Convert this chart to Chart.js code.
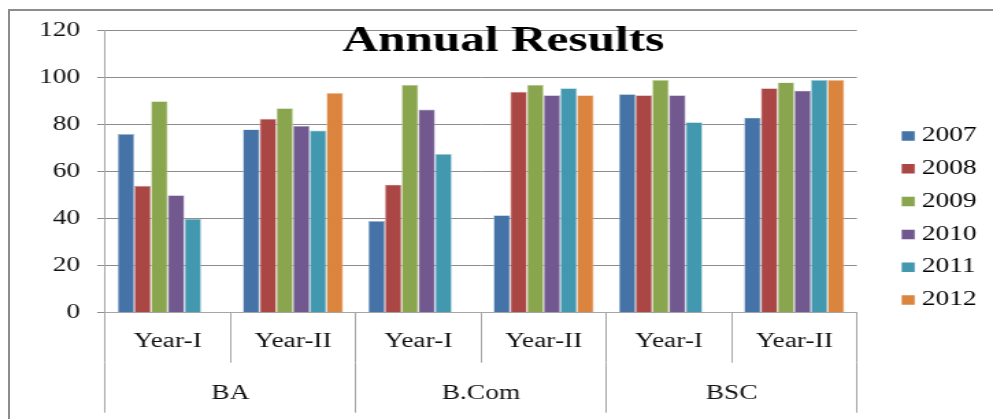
<!DOCTYPE html>
<html>
<head>
<meta charset="utf-8">
<script src="https://cdn.jsdelivr.net/npm/chart.js@4.4.1/dist/chart.umd.min.js"></script>
<style>
  html, body { margin: 0; padding: 0; background: #fff; }
  body { width: 993px; height: 419px; position: relative; overflow: hidden; }
  #frame {
    position: absolute; left: 8px; top: 9px; right: 0; bottom: 0;
    border-left: 2px solid #8c8c8c; border-top: 2px solid #8c8c8c;
  }
  #chart {
    position: absolute; left: 0; top: 0;
    transform: scaleX(1.3697); transform-origin: 0 0;
  }
</style>
</head>
<body>
<div id="frame"></div>
<canvas id="chart" width="725" height="419"></canvas>
<script>
// categories
const yearLabels = ['Year-I', 'Year-II', 'Year-I', 'Year-II', 'Year-I', 'Year-II'];
const courseLabels = ['BA', 'B.Com', 'BSC'];
const yTicks = [0, 20, 40, 60, 80, 100, 120];

// series
const series2007 = [76, 78, 39, 41.5, 93, 83];
const series2008 = [54, 82.5, 54.5, 94, 92.5, 95.5];
const series2009 = [90, 87, 97, 97, 99, 98];
const series2010 = [50, 79.5, 86.5, 92.5, 92.5, 94.5];
const series2011 = [40, 77.5, 67.5, 95.5, 81, 99];
const series2012 = [null, 93.5, null, 92.5, null, 99];

const seriesNames = ['2007', '2008', '2009', '2010', '2011', '2012'];
const seriesColors = ['#4572A7', '#AA4643', '#89A54E', '#71588F', '#4198AF', '#DB843D'];
const edgeColors = ['#A2B8D3', '#D4A2A1', '#C4D2A6', '#B8ABC7', '#A0CBD7', '#EDC19E'];
const allSeries = [series2007, series2008, series2009, series2010, series2011, series2012];

const serif = 'Liberation Serif';

// Excel puts the legend a bit away from the plot and the title over the plot,
// so nudge both boxes after chart.js has done its layout
const nudgeBoxes = {
  id: 'nudgeBoxes',
  afterLayout(chart) {
    const lg = chart.legend;
    lg.left += 24.6; lg.right += 24.6;
    lg.top -= 4.5; lg.bottom -= 4.5;
    const tt = chart.titleBlock;
    tt.left += 10.3; tt.right += 10.3;
  }
};

// keep an empty second line under every x label so the band gets its height
function twoLines(value) {
  return [this.getLabelForValue(value), ''];
}

new Chart(document.getElementById('chart'), {
  type: 'bar',
  data: {
    labels: yearLabels,
    datasets: allSeries.map((data, i) => ({
      label: seriesNames[i],
      data: data,
      backgroundColor: seriesColors[i],
      borderColor: edgeColors[i],
      borderWidth: 0.7,
      barPercentage: 1.0,
      categoryPercentage: 0.8,
      xAxisID: 'x'
    }))
  },
  options: {
    responsive: false,
    animation: false,
    layout: { padding: { left: 15.9, right: 26.5, top: 30.7, bottom: 4.7 } },
    plugins: {
      tooltip: { enabled: false },
      title: {
        display: true,
        text: 'Annual Results',
        color: '#000',
        font: { family: serif, size: 36, weight: 'bold', lineHeight: 1.2 },
        padding: { top: -10.5, bottom: -32.7 }
      },
      legend: {
        position: 'right',
        labels: {
          usePointStyle: true,
          pointStyle: 'rect',
          boxWidth: 0.1,
          boxHeight: 9.5,
          padding: 12.8,
          color: '#111',
          font: { family: serif, size: 20 },
          generateLabels: (chart) => chart.data.datasets.map((ds, i) => ({
            text: ds.label,
            fillStyle: ds.backgroundColor,
            strokeStyle: ds.backgroundColor,
            lineWidth: 0,
            pointStyle: 'rect',
            hidden: false,
            datasetIndex: i
          }))
        }
      }
    },
    scales: {
      x: {
        type: 'category',
        offset: true,
        border: { display: true, color: '#a6a6a6', width: 1 },
        grid: {
          offset: true,
          drawOnChartArea: false,
          drawTicks: true,
          tickLength: 50,
          color: '#a6a6a6',
          lineWidth: 1
        },
        ticks: {
          autoSkip: false,
          maxRotation: 0,
          padding: -42,
          color: '#111',
          font: { family: serif, size: 20, lineHeight: 2.1 },
          callback: twoLines
        }
      },
      x2: {
        type: 'category',
        position: 'bottom',
        labels: courseLabels,
        bounds: 'ticks',
        offset: true,
        border: { display: false },
        grid: {
          offset: true,
          drawOnChartArea: false,
          drawTicks: true,
          tickLength: 50,
          color: '#a6a6a6',
          lineWidth: 1
        },
        ticks: {
          autoSkip: false,
          maxRotation: 0,
          padding: -39.6,
          color: '#111',
          font: { family: serif, size: 20, lineHeight: 2.02 },
          callback: twoLines
        }
      },
      y: {
        min: yTicks[0],
        max: yTicks[yTicks.length - 1],
        afterBuildTicks: (scale) => { scale.ticks = yTicks.map(v => ({ value: v })); },
        border: { display: true, color: '#a6a6a6', width: 1 },
        grid: {
          color: '#8c8c8c',
          lineWidth: 1,
          drawTicks: true,
          tickLength: 5.8
        },
        ticks: {
          padding: 12.5,
          color: '#111',
          font: { family: serif, size: 20, lineHeight: 1.2 }
        }
      }
    }
  },
  plugins: [nudgeBoxes]
});
</script>
</body>
</html>
